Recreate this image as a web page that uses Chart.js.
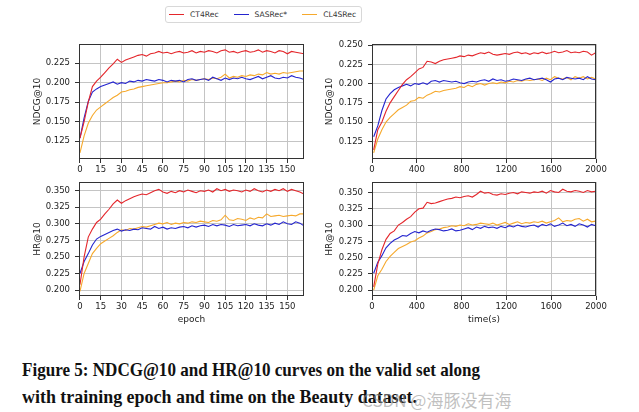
<!DOCTYPE html>
<html>
<head>
<meta charset="utf-8">
<script src="https://cdn.jsdelivr.net/npm/chart.js@4.4.0/dist/chart.umd.min.js"></script>
<style>
  html, body { margin: 0; padding: 0; background: #fff; }
  body { width: 639px; height: 412px; position: relative; overflow: hidden; }
  .panel { position: absolute; }
  #legend { position: absolute; left: 165px; top: 6px; height: 17px; box-sizing: border-box;
    border: 1px solid #d8d8d8; border-radius: 3px; padding: 0 5px 0 3px; display: flex; align-items: center;
    font: 7.6px 'DejaVu Sans'; color: #333; background: #fff; }
  #legend .item { display: flex; align-items: center; margin-right: 15px; }
  #legend .item:last-child { margin-right: 0; }
  #legend .swatch { width: 15px; height: 0; border-top: 1px solid; margin-right: 6px; }
  .capline { position: absolute; left: 22px; font: bold 19px 'Liberation Serif', serif;
    line-height: 27px; color: #111; white-space: nowrap; transform-origin: 0 0; }
  #mark { position: absolute; left: 362px; top: 390px; font: 17px 'Noto Sans CJK SC', sans-serif;
    line-height: 20px; color: rgba(150,150,150,0.6); white-space: nowrap; }
</style>
</head>
<body>
<div id="legend"></div>
<div class="panel" style="left:0;top:34px"><canvas id="c1" width="320" height="146"></canvas></div>
<div class="panel" style="left:320px;top:34px"><canvas id="c2" width="319" height="146"></canvas></div>
<div class="panel" style="left:0;top:172px"><canvas id="c3" width="320" height="160"></canvas></div>
<div class="panel" style="left:320px;top:172px"><canvas id="c4" width="319" height="160"></canvas></div>
<div class="capline" id="cap1" style="top:356px">Figure 5: NDCG@10 and HR@10 curves on the valid set along</div>
<div class="capline" id="cap2" style="top:383px">with training epoch and time on the Beauty dataset.</div>
<div id="mark">CSDN @海豚没有海</div>
<script>
const models = ['CT4Rec', 'SASRec*', 'CL4SRec'];
const colors = ['#e4262b', '#2424cf', '#f6a92c'];

// every 3rd epoch, 0..162
const epochStep = 3;
// time samples, seconds
const timeStart = 15, timeStep = 36.7;

const epochTicks = [0, 15, 30, 45, 60, 75, 90, 105, 120, 135, 150];
const timeTicks = [0, 400, 800, 1200, 1600, 2000];
const ndcgTicks = [0.125, 0.150, 0.175, 0.200, 0.225, 0.250];
const hrTicks = [0.200, 0.225, 0.250, 0.275, 0.300, 0.325, 0.350];

// NDCG@10 vs epoch
const ndcgEpochCT4Rec = [
  0.129, 0.150, 0.175, 0.195, 0.202, 0.207, 0.213, 0.219, 0.224, 0.230,
  0.226, 0.229, 0.231, 0.233, 0.235, 0.236, 0.234, 0.237, 0.238, 0.240,
  0.238, 0.239, 0.237, 0.239, 0.240, 0.238, 0.239, 0.241, 0.238, 0.240,
  0.239, 0.241, 0.240, 0.238, 0.241, 0.242, 0.239, 0.240, 0.238, 0.240,
  0.241, 0.239, 0.240, 0.242, 0.239, 0.241, 0.240, 0.238, 0.241, 0.240,
  0.237, 0.240, 0.239, 0.238, 0.237];
const ndcgEpochSASRec = [
  0.129, 0.155, 0.176, 0.188, 0.192, 0.195, 0.197, 0.199, 0.201, 0.198,
  0.200, 0.199, 0.202, 0.201, 0.203, 0.202, 0.204, 0.203, 0.202, 0.204,
  0.203, 0.201, 0.203, 0.202, 0.203, 0.201, 0.204, 0.205, 0.203, 0.204,
  0.205, 0.203, 0.207, 0.205, 0.203, 0.206, 0.204, 0.206, 0.205, 0.207,
  0.205, 0.204, 0.206, 0.208, 0.205, 0.207, 0.209, 0.206, 0.205, 0.207,
  0.206, 0.209, 0.207, 0.206, 0.204];
const ndcgEpochCL4SRec = [
  0.110, 0.132, 0.148, 0.158, 0.165, 0.169, 0.173, 0.177, 0.181, 0.184,
  0.188, 0.189, 0.191, 0.192, 0.194, 0.195, 0.196, 0.197, 0.198, 0.199,
  0.200, 0.200, 0.201, 0.202, 0.201, 0.203, 0.202, 0.204, 0.203, 0.204,
  0.205, 0.204, 0.206, 0.205, 0.207, 0.211, 0.206, 0.208, 0.207, 0.209,
  0.208, 0.210, 0.209, 0.211, 0.210, 0.213, 0.211, 0.212, 0.211, 0.213,
  0.212, 0.213, 0.214, 0.215, 0.215];

// NDCG@10 vs time
const ndcgTimeCT4Rec = [
  0.114, 0.140, 0.150, 0.164, 0.175, 0.183, 0.191, 0.199, 0.205, 0.209,
  0.214, 0.219, 0.221, 0.229, 0.228, 0.226, 0.229, 0.231, 0.232, 0.233,
  0.234, 0.236, 0.235, 0.237, 0.236, 0.238, 0.240, 0.239, 0.241, 0.238,
  0.237, 0.238, 0.239, 0.238, 0.240, 0.241, 0.239, 0.240, 0.238, 0.240,
  0.239, 0.241, 0.239, 0.240, 0.242, 0.240, 0.241, 0.243, 0.240, 0.241,
  0.240, 0.242, 0.241, 0.237, 0.240];
const ndcgTimeSASRec = [
  0.131, 0.145, 0.165, 0.180, 0.187, 0.192, 0.195, 0.197, 0.199, 0.197,
  0.200, 0.199, 0.201, 0.199, 0.203, 0.204, 0.202, 0.204, 0.203, 0.202,
  0.203, 0.201, 0.200, 0.202, 0.203, 0.202, 0.204, 0.205, 0.203, 0.206,
  0.204, 0.205, 0.203, 0.204, 0.206, 0.205, 0.204, 0.206, 0.207, 0.205,
  0.206, 0.207, 0.205, 0.202, 0.206, 0.207, 0.205, 0.208, 0.207, 0.206,
  0.207, 0.205, 0.209, 0.206, 0.205];
const ndcgTimeCL4SRec = [
  0.110, 0.128, 0.140, 0.150, 0.156, 0.161, 0.166, 0.169, 0.172, 0.177,
  0.178, 0.182, 0.181, 0.185, 0.187, 0.190, 0.189, 0.191, 0.192, 0.193,
  0.194, 0.196, 0.195, 0.198, 0.196, 0.199, 0.200, 0.198, 0.200, 0.201,
  0.200, 0.202, 0.201, 0.203, 0.202, 0.204, 0.203, 0.205, 0.204, 0.205,
  0.206, 0.204, 0.207, 0.205, 0.209, 0.207, 0.206, 0.208, 0.205, 0.209,
  0.207, 0.209, 0.206, 0.208, 0.206];

// HR@10 vs epoch
const hrEpochCT4Rec = [
  0.208, 0.250, 0.280, 0.292, 0.302, 0.307, 0.315, 0.322, 0.330, 0.336,
  0.331, 0.335, 0.338, 0.341, 0.343, 0.345, 0.344, 0.347, 0.350, 0.352,
  0.348, 0.346, 0.349, 0.347, 0.350, 0.348, 0.351, 0.349, 0.347, 0.350,
  0.349, 0.351, 0.348, 0.353, 0.350, 0.352, 0.349, 0.351, 0.350, 0.348,
  0.351, 0.349, 0.353, 0.350, 0.348, 0.351, 0.349, 0.352, 0.350, 0.353,
  0.349, 0.352, 0.350, 0.348, 0.345];
const hrEpochSASRec = [
  0.225, 0.243, 0.255, 0.268, 0.277, 0.281, 0.284, 0.287, 0.290, 0.292,
  0.289, 0.291, 0.290, 0.292, 0.291, 0.294, 0.293, 0.292, 0.296, 0.293,
  0.295, 0.292, 0.294, 0.293, 0.295, 0.296, 0.294, 0.297, 0.295, 0.297,
  0.298, 0.296, 0.299, 0.297, 0.299, 0.298, 0.296, 0.299, 0.297, 0.298,
  0.299, 0.297, 0.300, 0.298, 0.297, 0.300, 0.298, 0.301, 0.299, 0.303,
  0.300, 0.299, 0.303, 0.301, 0.297];
const hrEpochCL4SRec = [
  0.198, 0.225, 0.240, 0.255, 0.263, 0.270, 0.274, 0.278, 0.282, 0.287,
  0.291, 0.290, 0.293, 0.292, 0.294, 0.296, 0.295, 0.297, 0.299, 0.301,
  0.300, 0.302, 0.299, 0.301, 0.300, 0.302, 0.301, 0.303, 0.302, 0.304,
  0.303, 0.302, 0.305, 0.304, 0.306, 0.313, 0.306, 0.305, 0.308, 0.307,
  0.305, 0.309, 0.307, 0.310, 0.309, 0.315, 0.311, 0.312, 0.313, 0.311,
  0.312, 0.313, 0.312, 0.315, 0.315];

// HR@10 vs time
const hrTimeCT4Rec = [
  0.205, 0.240, 0.262, 0.278, 0.287, 0.291, 0.300, 0.304, 0.309, 0.313,
  0.320, 0.325, 0.326, 0.335, 0.333, 0.334, 0.336, 0.338, 0.340, 0.341,
  0.343, 0.342, 0.344, 0.345, 0.343, 0.347, 0.352, 0.349, 0.350, 0.347,
  0.346, 0.348, 0.347, 0.349, 0.350, 0.348, 0.351, 0.350, 0.349, 0.351,
  0.350, 0.352, 0.349, 0.353, 0.351, 0.350, 0.355, 0.352, 0.351, 0.353,
  0.352, 0.350, 0.353, 0.351, 0.352];
const hrTimeSASRec = [
  0.226, 0.243, 0.253, 0.265, 0.272, 0.277, 0.280, 0.284, 0.283, 0.287,
  0.290, 0.288, 0.291, 0.289, 0.292, 0.294, 0.293, 0.291, 0.292, 0.294,
  0.291, 0.292, 0.294, 0.296, 0.293, 0.297, 0.295, 0.298, 0.296, 0.297,
  0.295, 0.298, 0.296, 0.299, 0.297, 0.300, 0.298, 0.297, 0.299, 0.300,
  0.297, 0.301, 0.299, 0.302, 0.298, 0.300, 0.303, 0.299, 0.301, 0.298,
  0.302, 0.300, 0.297, 0.301, 0.299];
const hrTimeCL4SRec = [
  0.200, 0.222, 0.232, 0.244, 0.252, 0.258, 0.264, 0.267, 0.270, 0.274,
  0.276, 0.280, 0.283, 0.288, 0.290, 0.293, 0.294, 0.296, 0.297, 0.299,
  0.298, 0.300, 0.299, 0.302, 0.300, 0.301, 0.303, 0.302, 0.301, 0.303,
  0.300, 0.302, 0.304, 0.301, 0.303, 0.305, 0.302, 0.304, 0.303, 0.305,
  0.304, 0.306, 0.303, 0.305, 0.307, 0.311, 0.305, 0.307, 0.306, 0.309,
  0.310, 0.306, 0.309, 0.305, 0.306];

Chart.defaults.font.family = "'DejaVu Sans'";
Chart.defaults.font.size = 8.5;
Chart.defaults.color = '#222';

// legend
const legendEl = document.getElementById('legend');
models.forEach((m, i) => {
  const it = document.createElement('div');
  it.className = 'item';
  it.innerHTML = '<span class="swatch" style="border-color:' + colors[i] + '"></span><span>' + m + '</span>';
  legendEl.appendChild(it);
});

// frame around plot area
const framePlugin = {
  id: 'frame',
  afterDatasetsDraw(chart) {
    const a = chart.chartArea, c = chart.ctx;
    c.save();
    c.strokeStyle = '#333';
    c.lineWidth = 1;
    c.strokeRect(Math.round(a.left) + 0.5, Math.round(a.top) + 0.5,
      Math.round(a.right - a.left) - 1, Math.round(a.bottom - a.top) - 1);
    c.restore();
  }
};

function pts(ys, kind) {
  return ys.map((y, i) => ({
    x: kind === 'epoch' ? i * epochStep : timeStart + i * timeStep,
    y: y
  }));
}

function makeChart(id, o) {
  new Chart(document.getElementById(id), {
    type: 'line',
    data: {
      datasets: o.series.map((ys, i) => ({
        label: models[i],
        data: pts(ys, o.kind),
        borderColor: colors[i],
        borderWidth: 1.1,
        pointRadius: 0,
        tension: 0,
        order: i
      }))
    },
    options: {
      responsive: false,
      animation: false,
      devicePixelRatio: 1,
      layout: { padding: { top: 10, right: o.padRight, left: 0, bottom: 0 } },
      plugins: { legend: { display: false }, tooltip: { enabled: false } },
      scales: {
        x: {
          type: 'linear',
          min: o.xMin, max: o.xMax,
          afterBuildTicks: s => { s.ticks = o.xTicks.map(v => ({ value: v })); },
          afterFit: s => { s.height = o.xH; },
          ticks: { padding: 2, maxRotation: 0, autoSkip: false, callback: v => String(v) },
          grid: { color: '#c4c4c4', lineWidth: 1, tickLength: 4, tickColor: '#333' },
          border: { display: false },
          title: { display: !!o.xTitle, text: o.xTitle, font: { size: 9 }, padding: { top: 0, bottom: 6.5 } }
        },
        y: {
          min: o.yMin, max: o.yMax,
          afterBuildTicks: s => { s.ticks = o.yTicks.filter(v => v >= o.yMin && v <= o.yMax).map(v => ({ value: v })); },
          afterFit: s => { s.width = o.yW; },
          ticks: { padding: 5, autoSkip: false, callback: v => v.toFixed(3) },
          grid: { color: '#c4c4c4', lineWidth: 1, tickLength: 4, tickColor: '#333' },
          border: { display: false },
          title: { display: true, text: o.yTitle, font: { size: 9 }, padding: { top: o.yTitlePad, bottom: 0 } }
        }
      }
    },
    plugins: [framePlugin]
  });
}

makeChart('c1', { kind: 'epoch', series: [ndcgEpochCT4Rec, ndcgEpochSASRec, ndcgEpochCL4SRec],
  xMin: -0.7, xMax: 162, yMin: 0.1023, yMax: 0.2494, xTicks: epochTicks, yTicks: ndcgTicks,
  yTitle: 'NDCG@10', xTitle: '', yW: 79, xH: 21, padRight: 16, yTitlePad: 32 });
makeChart('c2', { kind: 'time', series: [ndcgTimeCT4Rec, ndcgTimeSASRec, ndcgTimeCL4SRec],
  xMin: 0, xMax: 2000, yMin: 0.1020, yMax: 0.2513, xTicks: timeTicks, yTicks: ndcgTicks,
  yTitle: 'NDCG@10', xTitle: '', yW: 52, xH: 21, padRight: 43, yTitlePad: 4.6 });
makeChart('c3', { kind: 'epoch', series: [hrEpochCT4Rec, hrEpochSASRec, hrEpochCL4SRec],
  xMin: -0.7, xMax: 162, yMin: 0.191, yMax: 0.363, xTicks: epochTicks, yTicks: hrTicks,
  yTitle: 'HR@10', xTitle: 'epoch', yW: 79, xH: 36, padRight: 16, yTitlePad: 32 });
makeChart('c4', { kind: 'time', series: [hrTimeCT4Rec, hrTimeSASRec, hrTimeCL4SRec],
  xMin: 0, xMax: 2000, yMin: 0.191, yMax: 0.366, xTicks: timeTicks, yTicks: hrTicks,
  yTitle: 'HR@10', xTitle: 'time(s)', yW: 52, xH: 36, padRight: 43, yTitlePad: 4.6 });

// fit caption lines to the reference widths
[['cap1', 458], ['cap2', 395]].forEach(([id, target]) => {
  const el = document.getElementById(id);
  const w = el.getBoundingClientRect().width;
  el.style.transform = 'scaleX(' + (target / w) + ')';
});
</script>
</body>
</html>
